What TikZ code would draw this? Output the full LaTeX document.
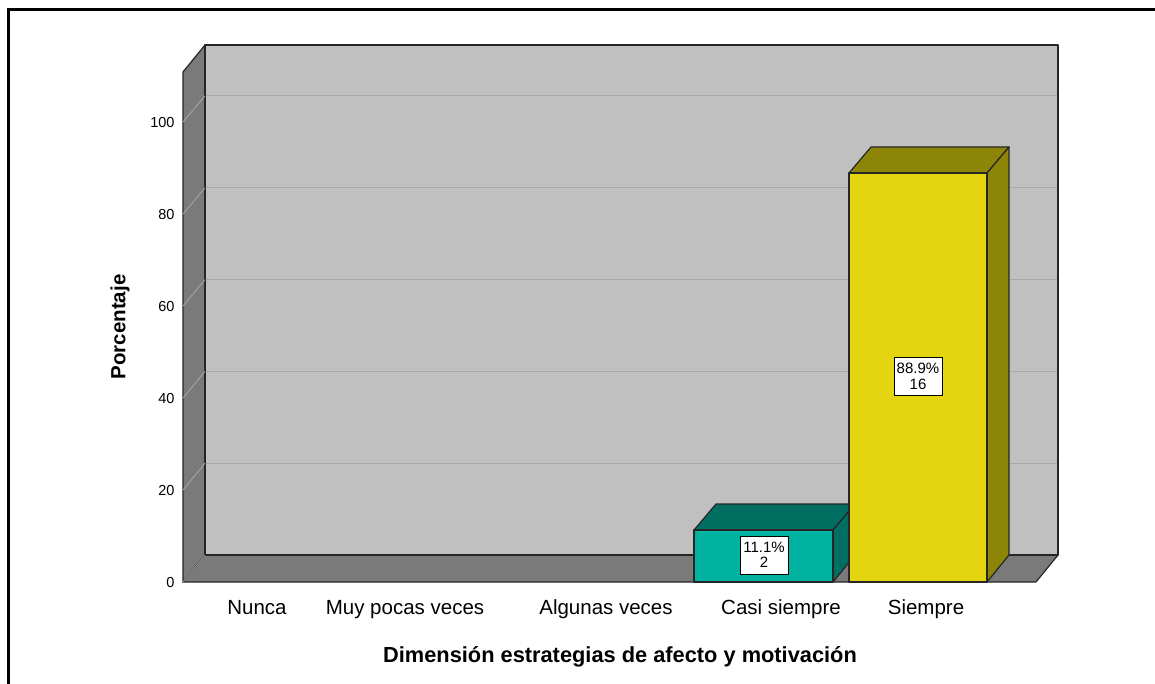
\documentclass[tikz,border=0pt]{standalone}
\usepackage{fontspec}
\setmainfont{Liberation Sans}
\definecolor{wallgray}{HTML}{C0C0C0}
\definecolor{sidegray}{HTML}{7A7A7A}
\definecolor{gridgray}{HTML}{A8A8A8}
\definecolor{tealfront}{HTML}{00B3A0}
\definecolor{tealdark}{HTML}{006F62}
\definecolor{yelfront}{HTML}{E3D610}
\definecolor{yeldark}{HTML}{8C8508}
\begin{document}
\begin{tikzpicture}[x=1pt,y=-1pt,
  edge/.style={draw=black!85,line width=1.2pt,line join=round},
  tick/.style={anchor=east,font=\fontsize{14.5}{14.5}\selectfont},
  cat/.style={anchor=base,font=\fontsize{20.5}{20.5}\selectfont},
  vbox/.style={draw=black,fill=white,line width=0.8pt,align=center,inner sep=1pt,minimum width=48pt,minimum height=38pt,font=\fontsize{15}{15.5}\selectfont}]
\useasboundingbox (0,0) rectangle (1155,684);
% outer frame
\draw[line width=2.2pt] (1155,9.5) -- (8.5,9.5) -- (8.5,684);
% back wall
\fill[wallgray] (205,45) rectangle (1058,555);
% grid lines
\foreach \v in {20,40,60,80,100}{
  \draw[gridgray,line width=1pt] (205,{555-4.59*\v}) -- (1058,{555-4.59*\v});
}
% left wall
\path[edge,fill=sidegray] (205,45) -- (205,555) -- (183,582) -- (183,72) -- cycle;
% floor
\path[edge,fill=sidegray] (205,555) -- (1058,555) -- (1036,582) -- (183,582) -- cycle;
\draw[edge] (205,45) rectangle (1058,555);
% left wall diagonals
\foreach \v in {0,20,40,60,80,100}{
  \draw[gridgray,line width=0.8pt] (183,{582-4.6*\v}) -- (205,{555-4.59*\v});
}
% tick labels
\foreach \v in {0,20,40,60,80,100}{
  \node[tick] (t\v) at (178,{582-4.6*\v+1}) {\v};
}
% bar: Casi siempre
\path[edge,fill=tealdark] (694,530) -- (716,504) -- (855,504) -- (833,530) -- cycle;
\path[edge,fill=tealdark] (833,530) -- (855,504) -- (855,555) -- (833,582) -- cycle;
\path[edge,fill=tealfront] (694,530) rectangle (833,582);
% bar: Siempre
\path[edge,fill=yeldark] (849,173) -- (871,147) -- (1009,147) -- (987,173) -- cycle;
\path[edge,fill=yeldark] (987,173) -- (1009,147) -- (1009,555) -- (987,582) -- cycle;
\path[edge,fill=yelfront] (849,173) rectangle (987,582);
% value labels
\node[vbox] (lab1) at (764,555) {11.1\%\\2};
\node[vbox] (lab2) at (918,376.5) {88.9\%\\16};
% category labels
\node[cat] (c1) at (257,614) {Nunca};
\node[cat] (c2) at (405,614) {Muy pocas veces};
\node[cat] (c3) at (606,614) {Algunas veces};
\node[cat] (c4) at (781,614) {Casi siempre};
\node[cat] (c5) at (926,614) {Siempre};
% axis titles
\node[anchor=base,font=\fontsize{21.8}{21.8}\selectfont\bfseries] (xt) at (620,662) {Dimensión estrategias de afecto y motivación};
\node[font=\fontsize{20.5}{20.5}\selectfont\bfseries,rotate=90] (yt) at (120,327) {Porcentaje};
\end{tikzpicture}
\end{document}
